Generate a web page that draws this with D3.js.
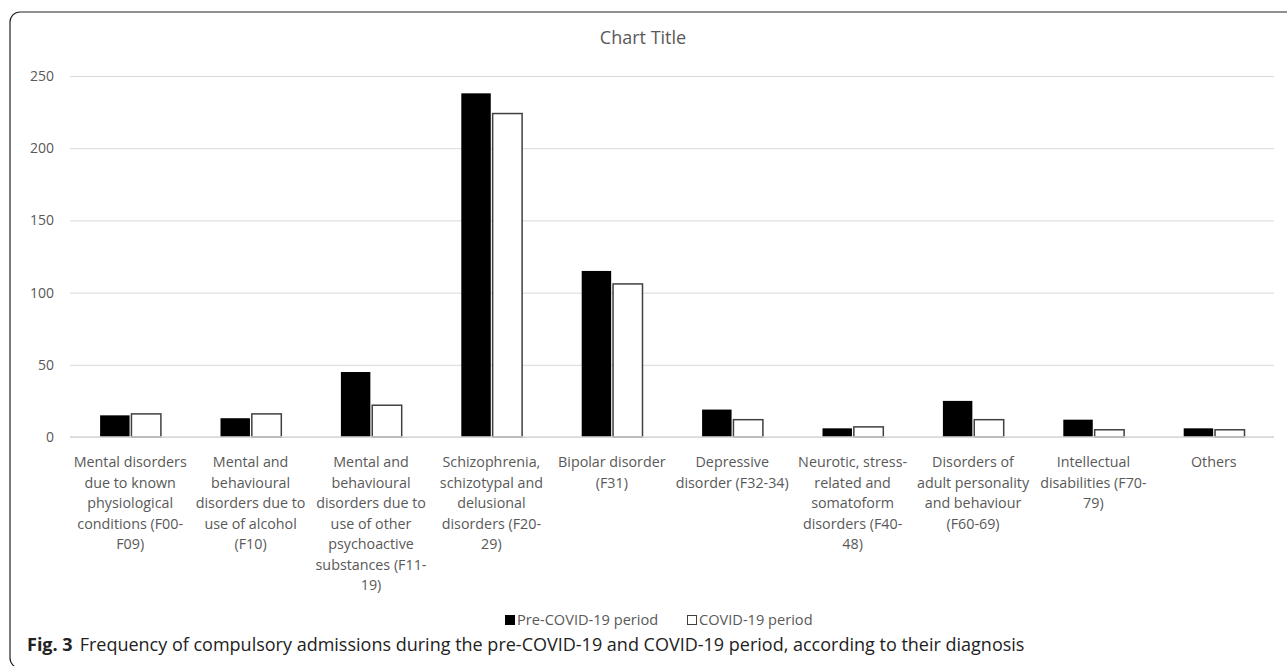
<!DOCTYPE html>
<html>
<head>
<meta charset="utf-8">
<script src="https://cdn.jsdelivr.net/npm/d3@7"></script>
<style>
  body { margin: 0; background: #fff; }
  text { font-family: "Open Sans", "DejaVu Sans", sans-serif; }
</style>
</head>
<body>
<svg id="chart" width="1287" height="666"></svg>
<script>
// category labels, already broken into lines like the source
var categories = [
  ['Mental disorders', 'due to known', 'physiological', 'conditions (F00-', 'F09)'],
  ['Mental and', 'behavioural', 'disorders due to', 'use of alcohol', '(F10)'],
  ['Mental and', 'behavioural', 'disorders due to', 'use of other', 'psychoactive', 'substances (F11-', '19)'],
  ['Schizophrenia,', 'schizotypal and', 'delusional', 'disorders (F20-', '29)'],
  ['Bipolar disorder', '(F31)'],
  ['Depressive', 'disorder (F32-34)'],
  ['Neurotic, stress-', 'related and', 'somatoform', 'disorders (F40-', '48)'],
  ['Disorders of', 'adult personality', 'and behaviour', '(F60-69)'],
  ['Intellectual', 'disabilities (F70-', '79)'],
  ['Others']
];
var seriesNames = ['Pre-COVID-19 period', 'COVID-19 period'];
var preCovid = [15, 13, 45, 238, 115, 19, 6, 25, 12, 6];
var covid = [16, 16, 22, 224, 106, 12, 7, 12, 5, 5];
var yTicks = [0, 50, 100, 150, 200, 250];

var svg = d3.select('#chart');
var plot = { left: 70, right: 1274, top: 76, bottom: 437 };

// outer frame with rounded corner (runs off the right and bottom)
svg.append('rect')
  .attr('x', 10).attr('y', 12)
  .attr('width', 1300).attr('height', 656)
  .attr('rx', 10)
  .attr('fill', 'none')
  .attr('stroke', '#222')
  .attr('stroke-width', 1.2);

var x0 = d3.scaleBand()
  .domain(d3.range(categories.length))
  .range([plot.left, plot.right]);

var x1 = d3.scaleBand()
  .domain([0, 1])
  .range([x0.bandwidth() * 0.25, x0.bandwidth() * 0.755])
  .paddingInner(0.06);

var y = d3.scaleLinear()
  .domain([0, 250])
  .range([plot.bottom, plot.top]);

// title
svg.append('text')
  .attr('x', 643).attr('y', 44)
  .attr('text-anchor', 'middle')
  .attr('font-size', 18)
  .attr('fill', '#595959')
  .text('Chart Title');

// gridlines + tick labels
var yAxis = d3.axisLeft(y)
  .tickValues(yTicks)
  .tickSize(-(plot.right - plot.left))
  .tickPadding(16);

var gy = svg.append('g')
  .attr('transform', 'translate(' + plot.left + ',0)')
  .call(yAxis);
gy.select('.domain').remove();
gy.selectAll('.tick line')
  .attr('stroke', '#d9d9d9')
  .attr('stroke-width', 1);
gy.selectAll('.tick text')
  .attr('font-size', 14)
  .attr('fill', '#595959');

// bars
var rows = preCovid.map(function(d, i) { return [d, covid[i]]; });

var groups = svg.selectAll('.cat')
  .data(rows)
  .enter()
  .append('g')
  .attr('class', 'cat')
  .attr('transform', function(d, i) { return 'translate(' + x0(i) + ',0)'; });

groups.selectAll('rect')
  .data(function(d) { return d; })
  .enter()
  .append('rect')
  .attr('x', function(d, j) { return x1(j); })
  .attr('y', function(d) { return y(d); })
  .attr('width', x1.bandwidth())
  .attr('height', function(d) { return y(0) - y(d); })
  .attr('fill', function(d, j) { return j === 0 ? '#000' : '#fff'; })
  .attr('stroke', function(d, j) { return j === 0 ? 'none' : '#404040'; })
  .attr('stroke-width', 1.5);

// baseline
svg.append('line')
  .attr('x1', plot.left).attr('x2', plot.right)
  .attr('y1', y(0)).attr('y2', y(0))
  .attr('stroke', '#d9d9d9')
  .attr('stroke-width', 1.5);

// category labels
var labels = svg.selectAll('.cat-label')
  .data(categories)
  .enter()
  .append('text')
  .attr('class', 'cat-label')
  .attr('text-anchor', 'middle')
  .attr('font-size', 14.3)
  .attr('fill', '#595959')
  .attr('transform', function(d, i) { return 'translate(' + (x0(i) + x0.bandwidth() / 2) + ',' + 467 + ')'; });

labels.selectAll('tspan')
  .data(function(d) { return d; })
  .enter()
  .append('tspan')
  .attr('x', 0)
  .attr('dy', function(d, i) { return i === 0 ? 0 : 20.5; })
  .text(function(d) { return d; });

// legend
var legend = svg.append('g').attr('class', 'legend');
var legendX = [505, 687];
seriesNames.forEach(function(name, i) {
  var g = legend.append('g').attr('transform', 'translate(' + legendX[i] + ',615)');
  g.append('rect')
    .attr('x', 0.5).attr('y', 0.5)
    .attr('width', 9).attr('height', 9)
    .attr('fill', i === 0 ? '#000' : '#fff')
    .attr('stroke', i === 0 ? '#000' : '#404040')
    .attr('stroke-width', 1);
  g.append('text')
    .attr('x', 12).attr('y', 10)
    .attr('font-size', 14.6)
    .attr('fill', '#595959')
    .text(name);
});

// caption
var cap = svg.append('text')
  .attr('x', 27).attr('y', 651)
  .attr('font-size', 18)
  .attr('fill', '#222');
cap.append('tspan').attr('font-weight', 'bold').text('Fig. 3');
cap.append('tspan').attr('dx', 7).text('Frequency of compulsory admissions during the pre-COVID-19 and COVID-19 period, according to their diagnosis');
</script>
</body>
</html>
